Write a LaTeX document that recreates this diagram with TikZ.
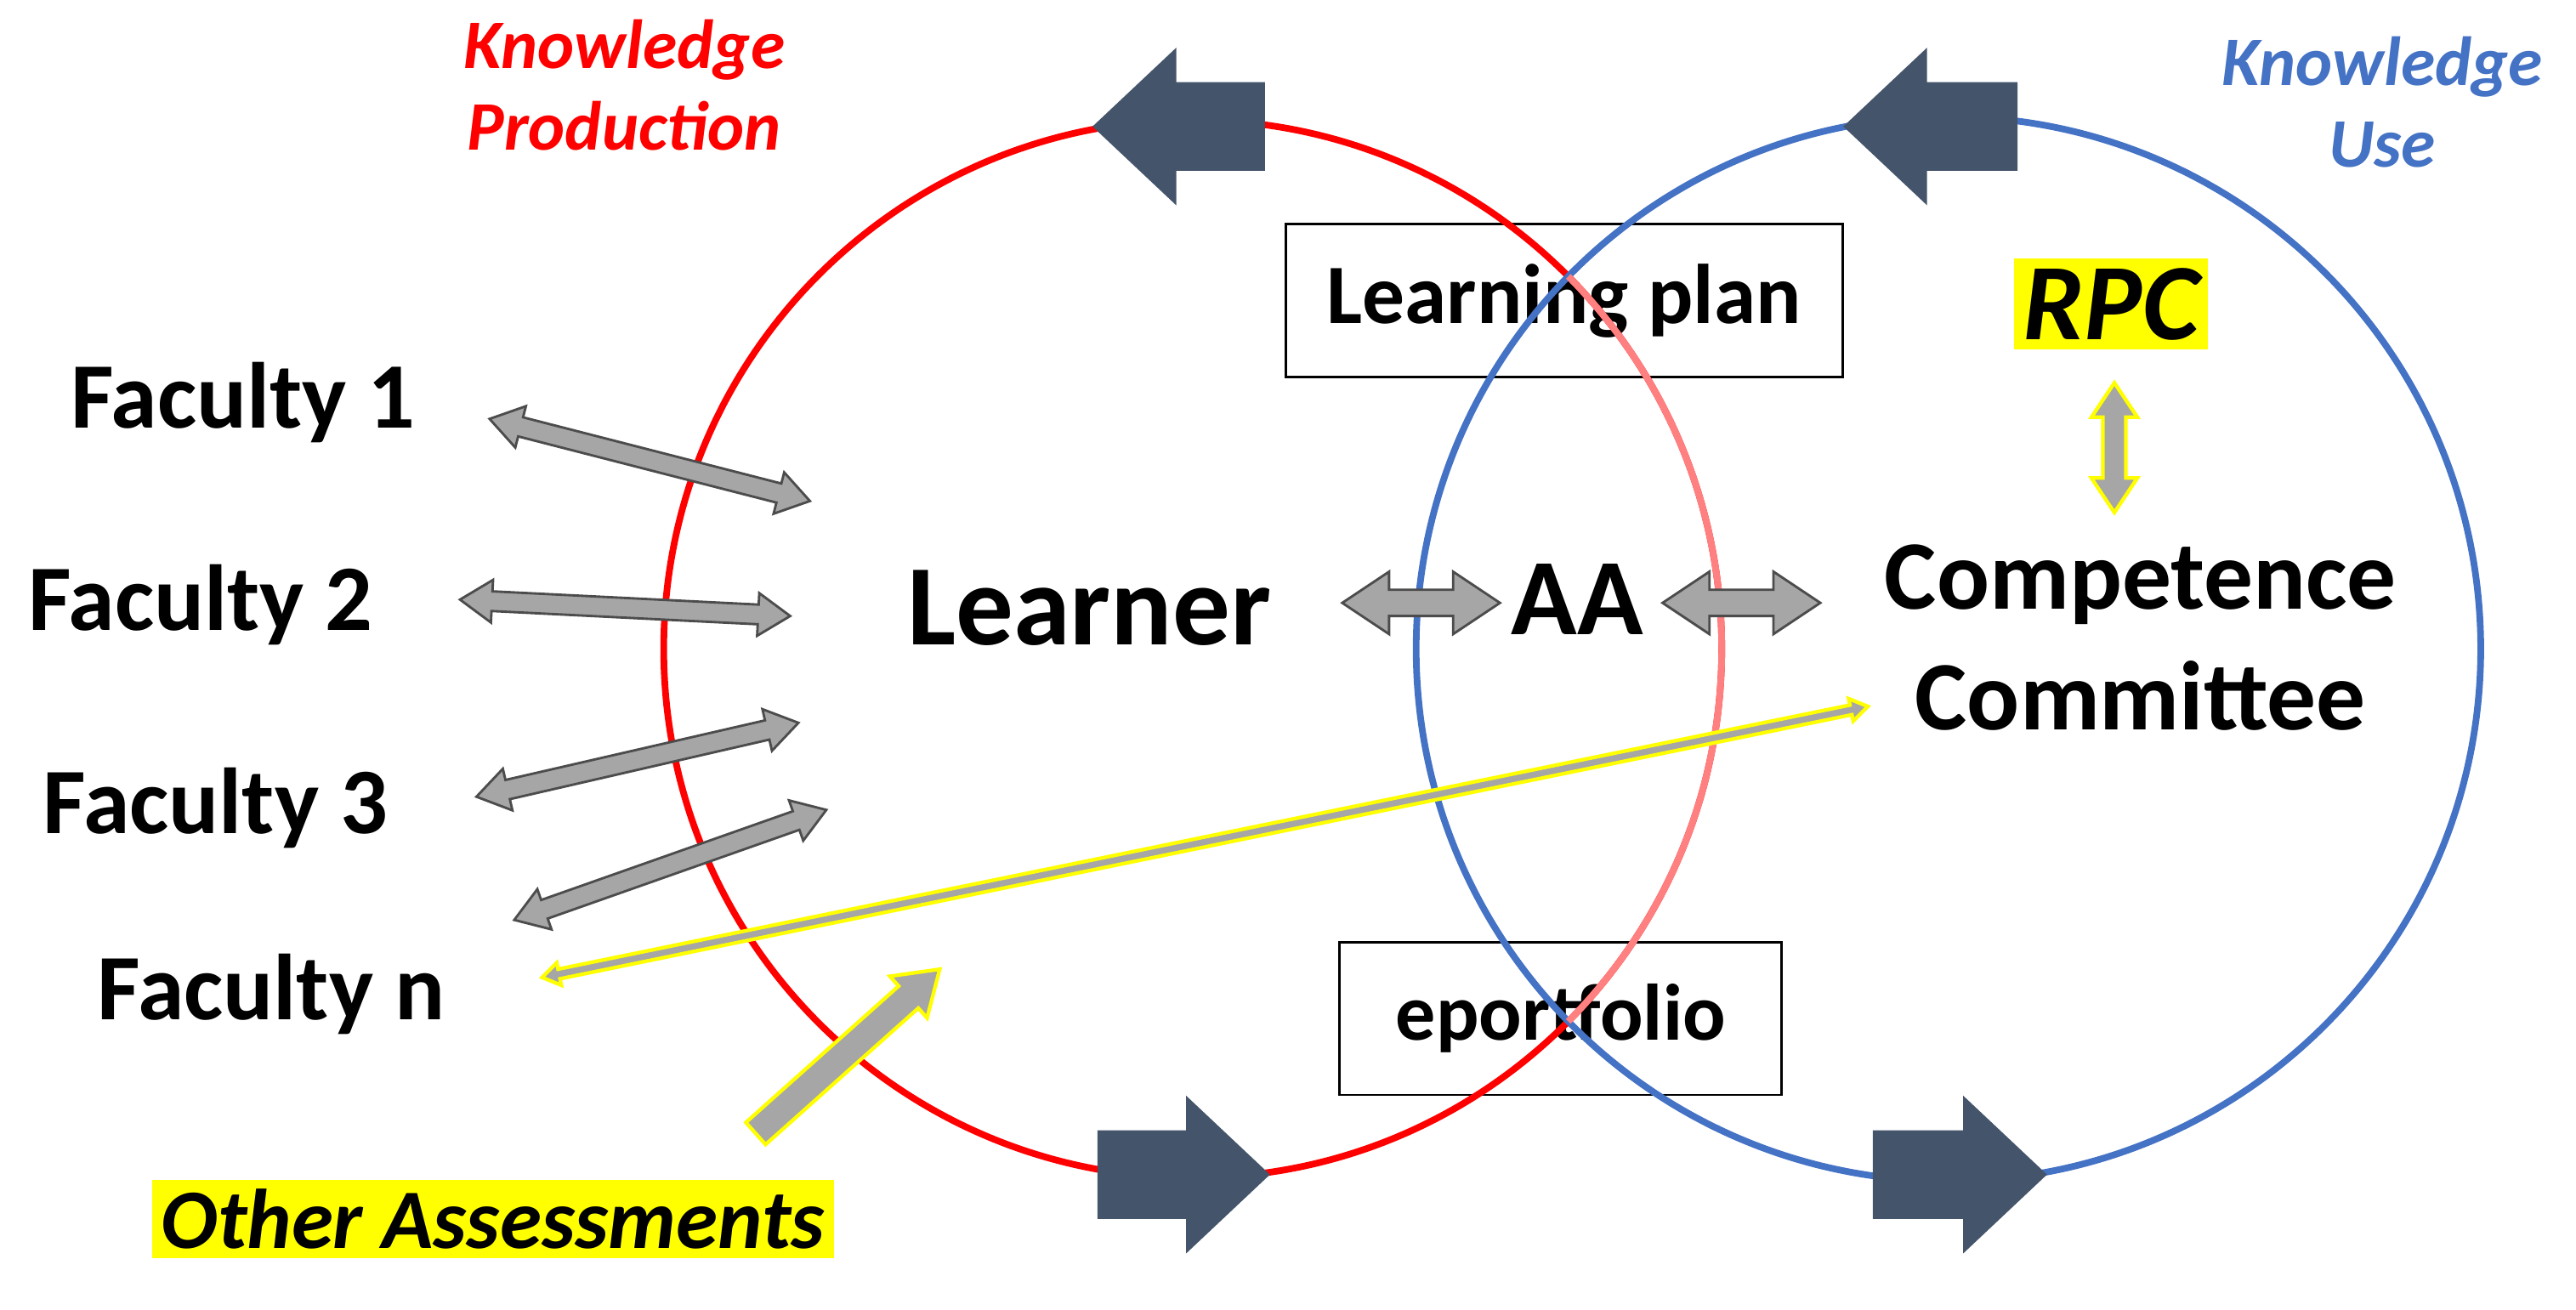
\documentclass[tikz,border=0pt]{standalone}
\usepackage{fontspec}
\setmainfont{Carlito}
\begin{document}
\definecolor{dk}{HTML}{44546A}
\definecolor{rd}{HTML}{FF0000}
\definecolor{bl}{HTML}{4472C4}
\definecolor{pk}{HTML}{FF8080}
\definecolor{gr}{HTML}{A6A6A6}
\definecolor{yl}{HTML}{FFFF00}
\newcommand\dblarr[7]{% x1 y1 x2 y2 shaft head style
  \pgfmathsetmacro\ang{atan2(-(#4-#2),#3-#1)}%
  \pgfmathsetmacro\len{veclen(#3-#1,#4-#2)}%
  \pgfmathsetmacro\k{#6*1.5}%
  \begin{scope}[shift={(#1,#2)},rotate=\ang]
  \draw[#7] (0,0)--(\k,#6)--(\k,#5)--(\len-\k,#5)--(\len-\k,#6)--(\len,0)--(\len-\k,-#6)--(\len-\k,-#5)--(\k,-#5)--(\k,-#6)--cycle;
  \end{scope}}
\newcommand\sglarr[7]{%
  \pgfmathsetmacro\ang{atan2(-(#4-#2),#3-#1)}%
  \pgfmathsetmacro\len{veclen(#3-#1,#4-#2)}%
  \pgfmathsetmacro\k{#6*1.5}%
  \begin{scope}[shift={(#1,#2)},rotate=\ang]
  \draw[#7] (0,#5)--(\len-\k,#5)--(\len-\k,#6)--(\len,0)--(\len-\k,-#6)--(\len-\k,-#5)--(0,-#5)--cycle;
  \end{scope}}
\begin{tikzpicture}[x=0.0191cm,y=-0.0191cm,
  gar/.style={fill=gr,draw=black!70,line width=0.8pt},
  yar/.style={fill=gr,draw=yl,line width=1.2pt},
  big/.style={fill=dk,draw=none},
  fac/.style={font=\fontsize{31}{34}\selectfont\bfseries},
  box/.style={draw=black,fill=white,line width=0.8pt,minimum width=339*0.0191cm,minimum height=93*0.0191cm,font=\fontsize{28}{30}\selectfont\bfseries}]
\useasboundingbox (0,0) rectangle (1568,797);
\coordinate (rc) at (726,395);
\coordinate (bc) at (1186,395);
% boxes
\node[box] (lp) at (952,183) {Learning plan};
\node[box,minimum width=269*0.0191cm,font=\fontsize{26.5}{30}\selectfont\bfseries] (ep) at (950,620) {eportfolio};
% circles
\draw[rd,line width=2.2pt] (rc) circle[radius=322*0.0191cm];
\draw[bl,line width=2.2pt] (bc) circle[radius=324*0.0191cm];
\begin{scope}
\clip (bc) circle[radius=324*0.0191cm];
\draw[pk,line width=2.2pt] (rc) circle[radius=322*0.0191cm];
\end{scope}
% big arrows
\fill[big] (665,77)--(716,29)--(716,50)--(770,50)--(770,104)--(716,104)--(716,125)--cycle;
\fill[big] (1122,77)--(1173,29)--(1173,50)--(1228,50)--(1228,104)--(1173,104)--(1173,125)--cycle;
\fill[big] (773,715)--(722,667)--(722,688)--(668,688)--(668,742)--(722,742)--(722,763)--cycle;
\fill[big] (1246,715)--(1195,667)--(1195,688)--(1140,688)--(1140,742)--(1195,742)--(1195,763)--cycle;
% texts
\node[fac] (f1) at (148,245) {Faculty 1};
\node[fac] (f2) at (122,368) {Faculty 2};
\node[fac] (f3) at (131,492) {Faculty 3};
\node[fac] (fn) at (165,605) {Faculty n};
\node[font=\fontsize{38}{40}\selectfont\bfseries] (le) at (663,370) {Learner};
\node[font=\fontsize{36}{38}\selectfont\bfseries] (aa) at (960,365) {AA};
\node[font=\fontsize{32.5}{40}\selectfont\bfseries,align=center] (cc) at (1303,388) {Competence\\Committee};
\node[fill=yl,inner sep=3pt,font=\fontsize{36}{38}\selectfont\bfseries\itshape] (rpc) at (1285,185) {RPC};
\node[fill=yl,inner sep=3pt,font=\fontsize{28}{30}\selectfont\bfseries\itshape] (oa) at (300,742) {Other Assessments};
\node[rd,align=center,font=\fontsize{23}{27}\selectfont\bfseries\itshape] (kp) at (380,52) {Knowledge\\Production};
\node[bl,align=center,font=\fontsize{23}{27}\selectfont\bfseries\itshape] (ku) at (1450,62) {Knowledge\\Use};
% gray arrows
\dblarr{298}{255}{493}{305}{6}{13}{gar}
\dblarr{280}{365}{481}{375}{6}{13}{gar}
\dblarr{290}{485}{486}{440}{6}{13}{gar}
\dblarr{313}{560}{503}{493}{6}{13}{gar}
\dblarr{817}{367}{913}{367}{8}{19}{gar}
\dblarr{1012}{367}{1108}{367}{8}{19}{gar}
\dblarr{1287}{233}{1287}{312}{7}{14}{yar}
\dblarr{330}{595}{1137}{430}{3}{7}{yar}
\sglarr{460}{690}{572}{590}{9}{17}{yar}
\end{tikzpicture}
\end{document}
